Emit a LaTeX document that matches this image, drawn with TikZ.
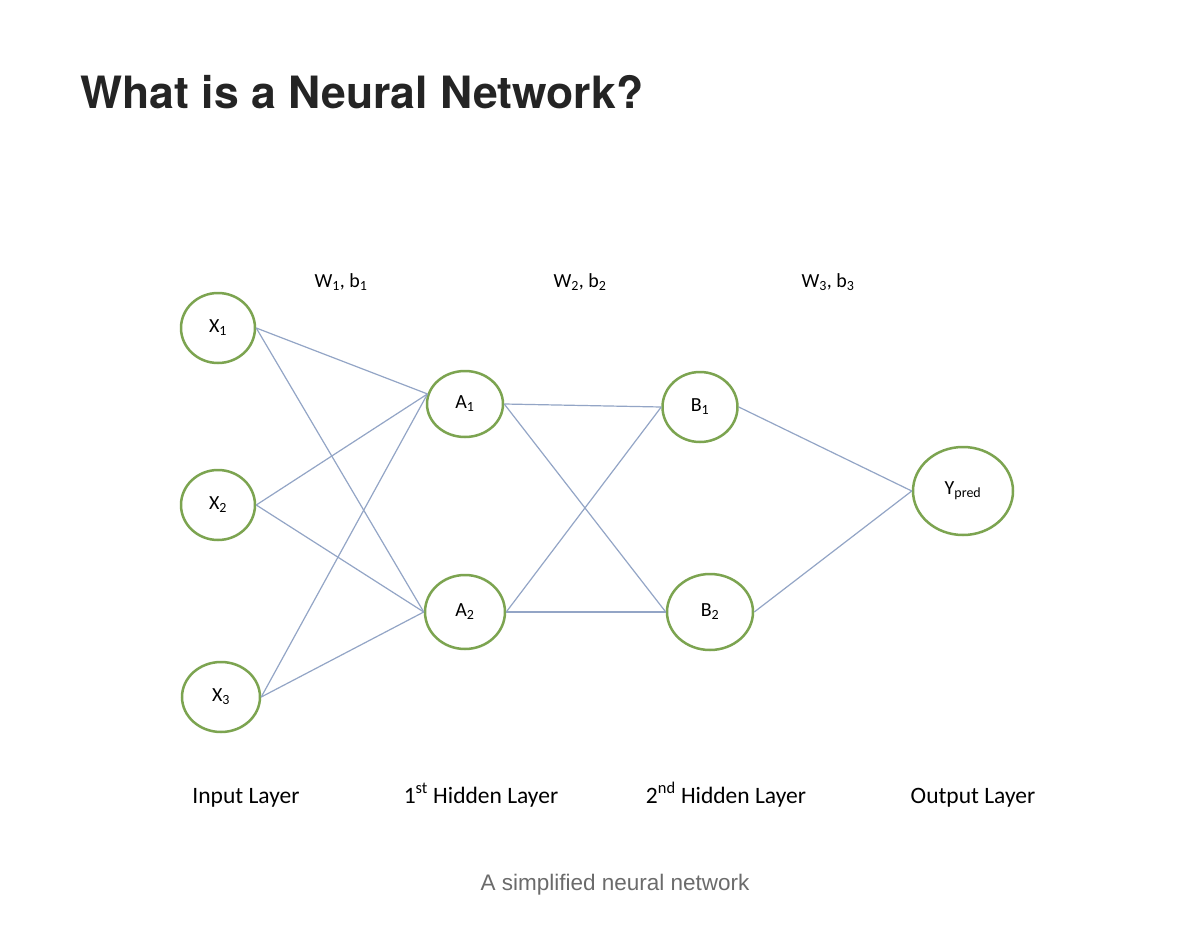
\documentclass[tikz,border=0pt]{standalone}
\usepackage{fontspec}
\setmainfont{Carlito}
\newfontfamily\titlefont{TeX Gyre Heros}
\newfontfamily\capfont{Liberation Sans}
\usetikzlibrary{shapes.geometric}
\definecolor{nodegreen}{HTML}{7CA450}
\definecolor{edgeblue}{HTML}{93A5C6}
\definecolor{captiongray}{HTML}{6B6B6B}
\definecolor{titleblack}{HTML}{242424}

\begin{document}
\begin{tikzpicture}[x=1pt,y=-1pt,
    neuron/.style={ellipse,draw=nodegreen,line width=2.5pt,inner sep=0pt,
      minimum width=74pt,minimum height=70pt,font=\fontsize{20}{22}\selectfont},
    edge/.style={draw=edgeblue,line width=1.2pt},
    wlabel/.style={anchor=base,font=\fontsize{20}{24}\selectfont},
    layer/.style={anchor=base,font=\fontsize{23.5}{28}\selectfont}]
\useasboundingbox[fill=white] (0,0) rectangle (1200,926);

\node[anchor=base west,text=titleblack,font=\titlefont\bfseries\fontsize{44.5}{50}\selectfont]
  (title) at (77,108) {What is a Neural Network?};

\node[neuron] (x1) at (218,328) {X\textsubscript{1}};
\node[neuron] (x2) at (218,505) {X\textsubscript{2}};
\node[neuron,minimum width=78pt] (x3) at (221,697) {X\textsubscript{3}};
\node[neuron,minimum width=76pt,minimum height=66pt] (a1) at (465,404) {A\textsubscript{1}};
\node[neuron,minimum width=80pt,minimum height=74pt] (a2) at (465,612) {A\textsubscript{2}};
\node[neuron,minimum width=75pt] (b1) at (700,407) {B\textsubscript{1}};
\node[neuron,minimum width=86pt,minimum height=76pt] (b2) at (710,612) {B\textsubscript{2}};
\node[neuron,minimum width=100pt,minimum height=88pt] (y) at (963,491) {Y\textsubscript{pred}};

\draw[edge] (x1.east) -- (a1.165);
\draw[edge] (x1.east) -- (a2.west);
\draw[edge] (x2.east) -- (a1.165);
\draw[edge] (x2.east) -- (a2.west);
\draw[edge] (x3.east) -- (a1.165);
\draw[edge] (x3.east) -- (a2.west);
\draw[edge] (a1.east) -- (b1.west);
\draw[edge] (a1.east) -- (b2.west);
\draw[edge] (a2.east) -- (b1.west);
\draw[edge] (a2.east) -- (b2.west);
\draw[edge] (b1.east) -- (y.west);
\draw[edge] (b2.east) -- (y.west);

\node[wlabel] (w1) at (341,287) {W\textsubscript{1}, b\textsubscript{1}};
\node[wlabel] (w2) at (580,287) {W\textsubscript{2}, b\textsubscript{2}};
\node[wlabel] (w3) at (828,287) {W\textsubscript{3}, b\textsubscript{3}};

\node[layer] (inl) at (246,803) {Input Layer};
\node[layer] (h1l) at (481,803) {1\textsuperscript{st} Hidden Layer};
\node[layer] (h2l) at (726,803) {2\textsuperscript{nd} Hidden Layer};
\node[layer] (outl) at (973,803) {Output Layer};

\node[anchor=base,text=captiongray,font=\capfont\fontsize{22.5}{26}\selectfont] (caption) at (615,890) {A simplified neural network};
\end{tikzpicture}
\end{document}
